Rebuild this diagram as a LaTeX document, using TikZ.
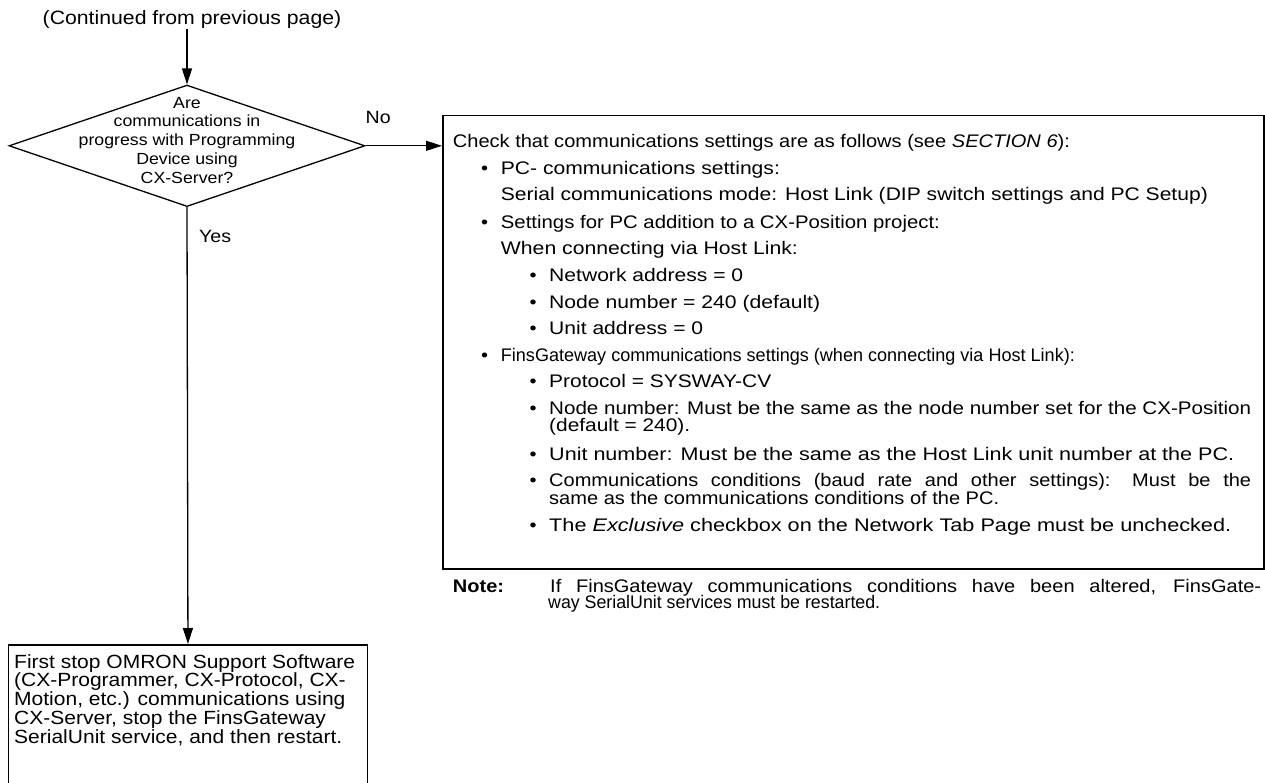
\documentclass[tikz,border=0pt]{standalone}
\usepackage{graphicx}
\usepackage{fontspec}
\setmainfont{Liberation Sans}[FakeStretch=1.1]
\usetikzlibrary{shapes.geometric,arrows.meta}
\newsavebox\fitbox
\newcommand\fitw[2]{\sbox\fitbox{#2}\scalebox{\fpeval{(#1)/(\wd\fitbox)}}[1]{\usebox\fitbox}}
\begin{document}
\begin{tikzpicture}[x=1pt,y=-1pt,
  conn/.style={line width=1.3pt, draw=black},
  arr/.style={conn, -{Triangle[length=16pt,width=10pt]}},
  boxline/.style={draw=black, line width=1.5pt},
  bt/.style={anchor=base west, inner sep=0pt, font=\fontsize{18.2}{17}\selectfont},
  bul/.style={anchor=base, inner sep=0pt, font=\fontsize{18.2}{17}\selectfont},
  qt/.style={anchor=base, inner sep=0pt, font=\fontsize{16.1}{18}\selectfont},
  ft/.style={anchor=base west, inner sep=0pt, font=\fontsize{19.1}{18}\selectfont},
  lbl/.style={anchor=base west, inner sep=0pt, font=\fontsize{17.8}{17}\selectfont}]
\useasboundingbox (0,0) rectangle (1265,783);
\fill[white] (0,0) rectangle (1265,783);

% header
\node[anchor=base, inner sep=0pt, font=\fontsize{19.3}{18}\selectfont] (cont) at (192,25) {(Continued from previous page)};

% decision diamond
\node[diamond, boxline, line width=1.3pt, minimum width=356pt, minimum height=121.5pt, inner sep=0pt] (dec) at (187,145.8) {};
\node[qt] (q1) at (187,108.3) {Are};
\node[qt] (q2) at (187,127) {communications in};
\node[qt] (q3) at (187,145.8) {progress with Programming};
\node[qt] (q4) at (187,164.5) {Device using};
\node[qt] (q5) at (187,183.3) {CX-Server?};

% check box
\node[boxline, anchor=north west, minimum width=821pt, minimum height=453.3pt, inner sep=0pt] (chk) at (442,115) {};

% bottom box
\node[boxline, anchor=north west, minimum width=359.4pt, minimum height=139.5pt, inner sep=0pt] (fin) at (7.5,644) {};

% connectors
\draw[arr] (cont.south -| dec.north) -- (dec.north);
\draw[arr] (dec.east) -- (dec.east -| chk.west);
\draw[arr] (dec.south) -- (fin.north);
\node[lbl] (no) at (365.5,124) {No};
\node[lbl] (yes) at (199,243) {Yes};

% check box text
\node[bt] (c0) at (452.7,147.7) {\fitw{617pt}{Check that communications settings are as follows (see \textit{SECTION 6}):}};
\node[bul] (b1) at (484.5,174.3) {\textbullet};
\node[bt] (c1) at (500.7,174.3) {\fitw{279pt}{PC- communications settings:}};
\node[bt] (c2) at (500.7,201) {\fitw{707pt}{Serial communications mode: Host Link (DIP switch settings and PC Setup)}};
\node[bul] (b3) at (484.5,228.3) {\textbullet};
\node[bt] (c3) at (500.7,228.3) {\fitw{439pt}{Settings for PC addition to a CX-Position project:}};
\node[bt] (c4) at (500.7,255) {\fitw{297pt}{When connecting via Host Link:}};
\node[bul] (b5) at (533,281.7) {\textbullet};
\node[bt] (c5) at (549,281.7) {\fitw{194pt}{Network address = 0}};
\node[bul] (b6) at (533,308.3) {\textbullet};
\node[bt] (c6) at (549,308.3) {\fitw{271pt}{Node number = 240 (default)}};
\node[bul] (b7) at (533,334.3) {\textbullet};
\node[bt] (c7) at (549,334.3) {\fitw{154pt}{Unit address = 0}};
\node[bul] (b8) at (484.5,361) {\textbullet};
\node[bt] (c8) at (500.7,361) {\fitw{574pt}{FinsGateway communications settings (when connecting via Host Link):}};
\node[bul] (b9) at (533,387.3) {\textbullet};
\node[bt] (c9) at (549,387.3) {\fitw{222pt}{Protocol = SYSWAY-CV}};
\node[bul] (b10) at (533,414) {\textbullet};
\node[bt] (c10) at (549,414) {\fitw{702pt}{Node number: Must be the same as the node number set for the CX-Position}};
\node[bt] (c11) at (549,431.7) {\fitw{141pt}{(default = 240).}};
\node[bul] (b12) at (533,460) {\textbullet};
\node[bt] (c12) at (549,460) {\fitw{685pt}{Unit number: Must be the same as the Host Link unit number at the PC.}};
\node[bul] (b13) at (533,486.7) {\textbullet};
\node[bt] (c13) at (549,486.7) {\makebox[702pt][s]{Communications conditions (baud rate and other settings): Must be the}};
\node[bt] (c14) at (549,504) {\fitw{450pt}{same as the communications conditions of the PC.}};
\node[bul] (b15) at (533,531.7) {\textbullet};
\node[bt] (c15) at (549,531.7) {\fitw{682pt}{The \textit{Exclusive} checkbox on the Network Tab Page must be unchecked.}};

% note
\node[bt] (nt) at (452.7,592.3) {\textbf{Note:}};
\node[bt] (n1) at (550,592.3) {\makebox[711pt][s]{If FinsGateway communications conditions have been altered, FinsGate-}};
\node[bt] (n2) at (548,608) {\fitw{332pt}{way SerialUnit services must be restarted.}};

% bottom box text
\node[ft] (f1) at (14,668.3) {First stop OMRON Support Software};
\node[ft] (f2) at (14,686.7) {(CX-Programmer, CX-Protocol, CX-};
\node[ft] (f3) at (14,705.7) {Motion, etc.) communications using};
\node[ft] (f4) at (14,724.3) {CX-Server, stop the FinsGateway};
\node[ft] (f5) at (14,743.3) {SerialUnit service, and then restart.};
\end{tikzpicture}
\end{document}
